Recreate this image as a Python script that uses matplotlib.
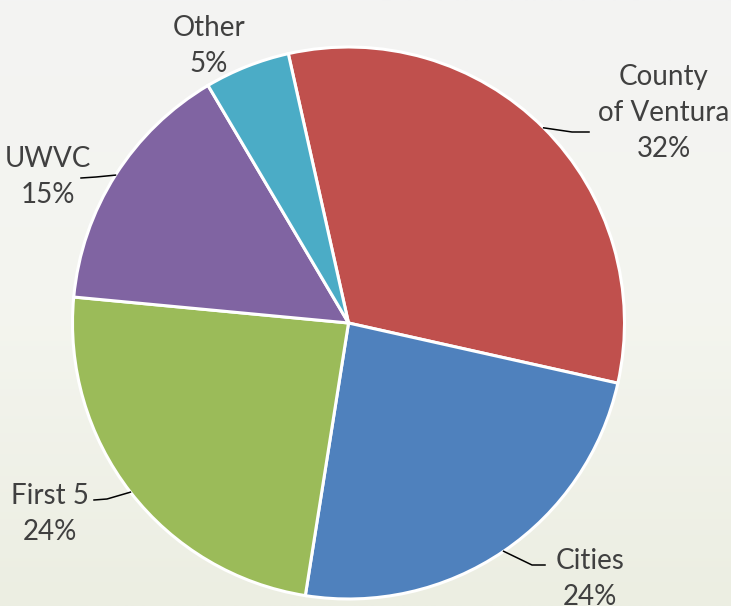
import numpy as np
import matplotlib.pyplot as plt
from matplotlib.colors import LinearSegmentedColormap

plt.rcParams['font.family'] = ['Lato', 'DejaVu Sans']

# ----- Data -----
names = ["County\nof Ventura", "Cities", "First 5", "UWVC", "Other"]
shares = [32, 24, 24, 15, 5]
colors = ["#C0504D", "#4F81BD", "#9BBB59", "#8064A2", "#4BACC6"]

# ----- Layout (pixels, y measured from top) -----
W, H = 731, 606
center = (348.5, H - 323)
radius = 276
# last-line baseline of each label block
label_xy = [(664, 157), (590, 605), (50, 540), (48, 203), (209, 72)]
# leader line: elbow and end point (None = no leader)
leader = [((572, 132), (589, 132)),
          ((532, 565), (545, 565)),
          ((107, 499), (94, 500)),
          ((96, 177), (81, 178)),
          None]

fig = plt.figure(figsize=(W / 100, H / 100), dpi=100)

# background gradient
bg = fig.add_axes([0, 0, 1, 1])
cmap = LinearSegmentedColormap.from_list(
    "bg", ["#f3f3f3", "#f4f5ef", "#eceee2"])
grad = np.linspace(0, 1, 256).reshape(-1, 1)
bg.imshow(grad, cmap=cmap, aspect="auto", extent=[0, 1, 0, 1], origin="upper")
bg.axis("off")

ax = fig.add_axes([0, 0, 1, 1])
ax.patch.set_visible(False)
wedges, _ = ax.pie(shares, colors=colors, startangle=102.6, counterclock=False,
                   center=center, radius=radius,
                   wedgeprops=dict(edgecolor="white", linewidth=2.2))
ax.set_xlim(0, W)
ax.set_ylim(0, H)
ax.set_aspect("equal")
ax.axis("off")

for w, name, share, (lx, ly), ld in zip(wedges, names, shares, label_xy, leader):
    ax.text(lx, H - ly, f"{name}\n{share}%", ha="center", va="baseline",
            fontsize=20, color="#404040", linespacing=1.48)
    if ld is None:
        continue
    mid = np.deg2rad((w.theta1 + w.theta2) / 2)
    sx = center[0] + radius * np.cos(mid)
    sy = center[1] + radius * np.sin(mid)
    (ex, ey), (fx, fy) = ld
    ax.plot([sx, ex, fx], [sy, H - ey, H - fy], color="black", lw=1.1)

plt.savefig("out.png", dpi=100)
